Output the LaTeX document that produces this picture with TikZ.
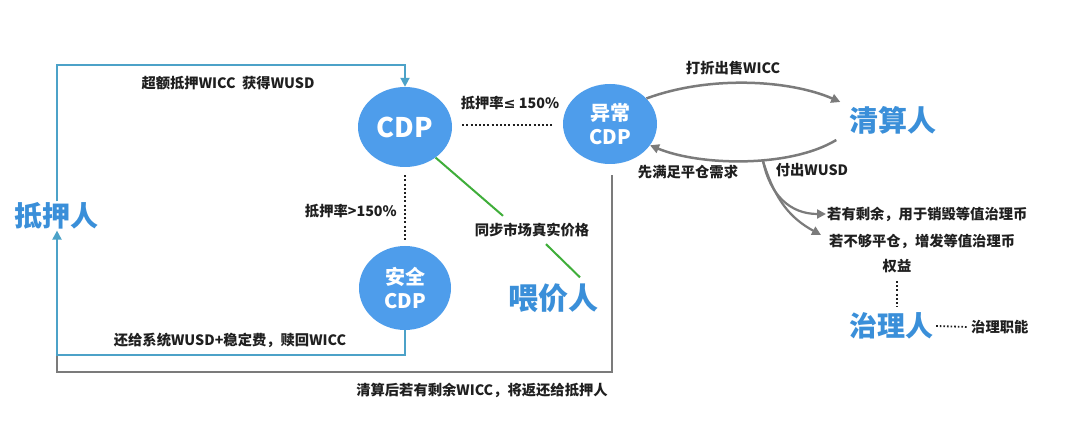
\documentclass[tikz,border=0pt]{standalone}
\usepackage{fontspec}
\newfontfamily\cjk{Noto Sans CJK SC}
\newfontfamily\sym{DejaVu Sans}
\usetikzlibrary{arrows.meta,shapes.geometric,calc}
\definecolor{circ}{HTML}{4E9DEB}
\definecolor{tblue}{HTML}{3A8FD9}
\definecolor{lblue}{HTML}{4CA2C8}
\definecolor{lgray}{HTML}{7B7B7B}
\definecolor{lgreen}{HTML}{3FAE3A}
\begin{document}
\begin{tikzpicture}[x=1pt,y=-1pt,
  cdpnode/.style={ellipse,fill=circ,inner sep=0pt,text=white,align=center,minimum width=94pt,minimum height=80pt},
  role/.style={text=tblue,font=\cjk\bfseries\fontsize{28}{30}\selectfont,inner sep=1pt},
  lbl/.style={font=\cjk\bfseries\fontsize{14.3}{16}\selectfont,text=black!88,inner sep=1pt},
  bline/.style={draw=lblue,line width=2pt},
  gline/.style={draw=lgray,line width=2pt},
  grline/.style={draw=lgreen,line width=2pt},
  dline/.style={draw=black!88,line width=2.2pt,dash pattern=on 2pt off 2.2pt},
  tip/.style={-{Triangle[length=9pt,width=9pt]}},
]
\fill[white] (0,0) rectangle (1080,427);
\useasboundingbox (0,0) rectangle (1080,427);

% nodes
\node[role] (dy) at (57,216) {抵押人};
\node[cdpnode,font=\cjk\bfseries\fontsize{27}{30}\selectfont] (cdp) at (405,127) {CDP};
\node[cdpnode,font=\cjk\bfseries\fontsize{20}{24}\selectfont] (yc) at (610,124) {异常\\CDP};
\node[cdpnode,minimum height=84pt,minimum width=92pt,font=\cjk\bfseries\fontsize{20}{24}\selectfont] (aq) at (405,288) {安全\\CDP};
\node[role,font=\cjk\bfseries\fontsize{30}{32}\selectfont] (wj) at (553,298) {喂价人};
\node[role,font=\cjk\bfseries\fontsize{29}{32}\selectfont] (qs) at (893,120) {清算人};
\node[role] (zl) at (891,326) {治理人};

% labels
\node[lbl] (l1) at (228,83) {超额抵押WICC\ \ 获得WUSD};
\node[lbl,anchor=east] (l2) at (398,211) {抵押率>150\%};
\node[lbl] (l3) at (510,103) {抵押率{\sym\bfseries ≤} 150\%};
\node[lbl] (l4) at (532,230) {同步市场真实价格};
\node[lbl] (l5) at (230,340) {还给系统WUSD+稳定费，赎回WICC};
\node[lbl] (l6) at (482,390) {清算后若有剩余WICC，将返还给抵押人};
\node[lbl] (l7) at (733,68) {打折出售WICC};
\node[lbl] (l8) at (688,172) {先满足平仓需求};
\node[lbl] (l9) at (812,170) {付出WUSD};
\node[lbl,anchor=west] (l10) at (826,214) {若有剩余，用于销毁等值治理币};
\node[lbl,anchor=west] (l11) at (828,241) {若不够平仓，增发等值治理币};
\node[lbl] (l12) at (897,266) {权益};
\node[lbl,anchor=west] (l13) at (970,327) {治理职能};

% blue connectors
\coordinate (tl) at (57,65);
\coordinate (bl) at (57,355);
\coordinate (gl) at (57,372);
\draw[gline] ($(yc.south)+(2,11)$) |- (gl) -- (bl);
\draw[bline,tip] (dy.north) -- (tl) -| (cdp.north);
\draw[bline,tip] (aq.south) |- (bl) -- (dy.south);

% dotted
\draw[dline] ($(cdp.south)+(0,8)$) -- ($(aq.north)+(0,-6)$);
\draw[dline] ($(cdp.east)+(10,-2)$) -- ($(yc.west)+(-9,1)$);
\draw[dline,shorten <=7pt,shorten >=4pt] (l12.south) -- (l12.south |- zl.north);
\draw[dline,line width=1.8pt,dash pattern=on 1.6pt off 2pt] ($(zl.east)+(2,0)$) -- ($(l13.west)+(-2,0)$);

% green
\draw[grline] (cdp.-45) -- ($(l4.north)+(-29,-6)$);
\draw[grline] ($(l4.south)+(14,6)$) -- ($(wj.north)+(27,-5)$);

% gray curves
\draw[gline,line width=2.5pt,tip] (yc.35) .. controls (710,75) and (790,80) .. ($(qs.west)+(-8,-18)$);
\draw[gline,line width=2.5pt,tip] ($(qs.west)+(-12,20)$) .. controls (790,168) and (700,166) .. (yc.-28);
\coordinate (br) at (763,161);
\draw[gline,line width=2.2pt,tip] (br) .. controls (770,195) and (790,214) .. (l10.west);
\draw[gline,line width=2.2pt,tip] (br) .. controls (775,200) and (790,218) .. ($(l11.west)+(-7,-6)$);
\end{tikzpicture}
\end{document}
